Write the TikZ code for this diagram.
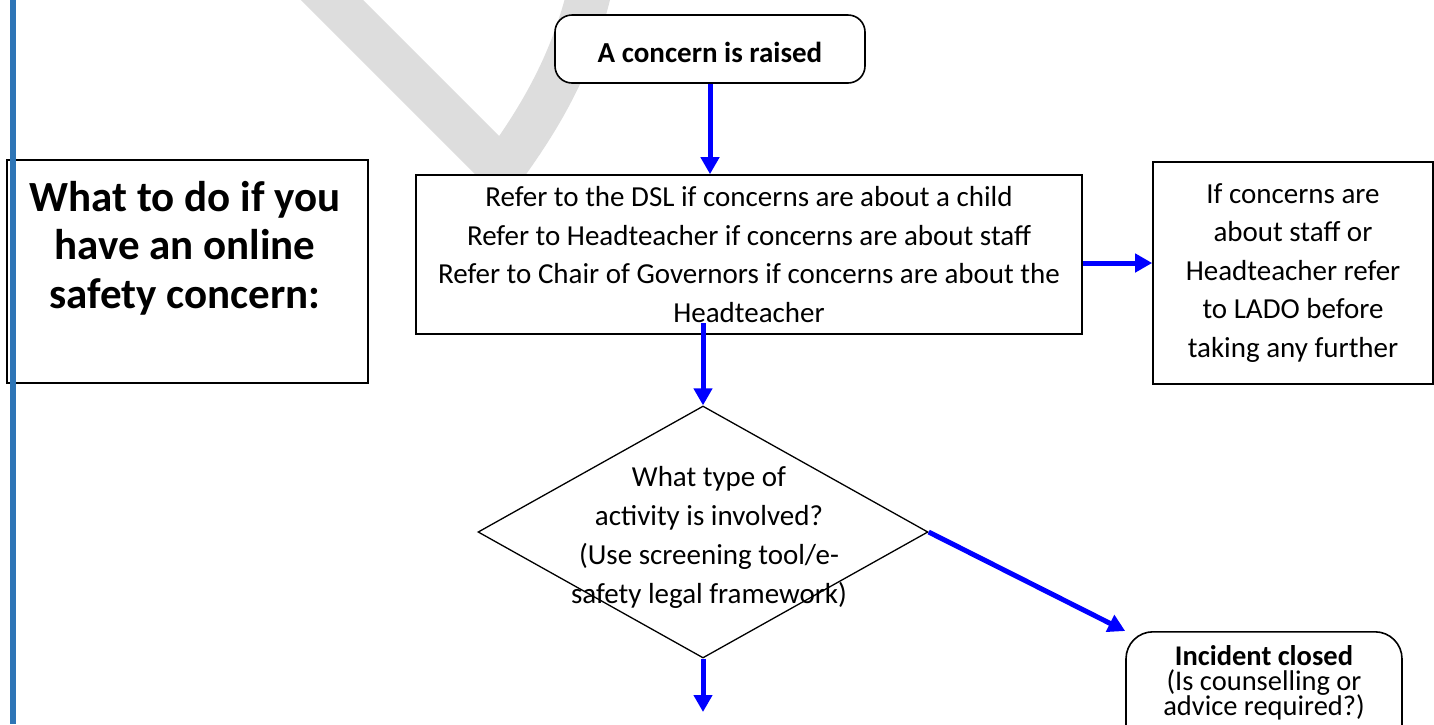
\documentclass[tikz,border=0pt]{standalone}
\usepackage{fontspec}
\setmainfont{Carlito}
\usetikzlibrary{arrows.meta,shapes.geometric,positioning}
\definecolor{barblue}{HTML}{2E75B6}
\definecolor{markgrey}{HTML}{DDDDDD}

\begin{document}
\begin{tikzpicture}[x=1pt,y=-1pt,
    plainbox/.style={draw,line width=1.6pt,fill=white,inner sep=0pt,align=center},
    roundbox/.style={plainbox,rounded corners=17pt},
    flow/.style={draw=blue,line width=5pt,-{Triangle[length=17pt,width=18pt]}},
    bodytext/.style={font=\fontsize{29}{38.5}\selectfont,align=center}]
  \useasboundingbox (0,0) rectangle (1434,724);
  \clip (0,0) rectangle (1434,724);
  \draw[markgrey,line width=44pt] (300,-32) -- (502,170) .. controls (540,118) and (575,60) .. (592,-20);
  \node[roundbox,minimum width=310pt,minimum height=68pt,text height=27pt,text depth=0pt,font=\fontsize{29}{35}\selectfont\bfseries] (raised) at (710,49) {A concern is raised};
  \node[plainbox,minimum width=666pt,minimum height=159pt,bodytext] (refer) at (749,254.5) {Refer to the DSL if concerns are about a child\\Refer to Headteacher if concerns are about staff\\Refer to Chair of Governors if concerns are about the\\Headteacher};
  \node[plainbox,minimum width=280pt,minimum height=222pt,bodytext] (lado) at (1293,273) {If concerns are\\about staff or\\Headteacher refer\\to LADO before\\taking any further};
  \node[plainbox,minimum width=361pt,minimum height=223pt] (whatbox) at (187.5,271.5) {};
  \node[font=\fontsize{43}{48.5}\selectfont\bfseries,align=center] (whattext) at (185,248) {What to do if you\\have an online\\safety concern:};
  \fill[barblue] (10,0) rectangle (16,724);
  \node[draw,diamond,line width=1.3pt,fill=white,minimum width=450pt,minimum height=252pt,inner sep=0pt] (question) at (703,532) {};
  \node[bodytext,font=\fontsize{29}{39}\selectfont] (qtext) at (709,537.5) {What type of\\activity is involved?\\(Use screening tool/e-\\safety legal framework)};
  \node[roundbox,rounded corners=27pt,minimum width=276pt,minimum height=150pt,anchor=north] (closed) at (1264,631) {};
  \node[font={\fontsize{28.5}{25}\selectfont\lineskiplimit=-100pt},align=center] (closedtext) at (1264,683) {\textbf{Incident closed}\\(Is counselling or\\advice required?)};
  \coordinate (referfoot) at (703,323);
  \coordinate (onward) at (703,712);
  \draw[flow] (raised.south) -- (raised.south |- refer.north);
  \draw[flow] (refer.east |- 0,263) -- (lado.west |- 0,263);
  \draw[flow] (referfoot) -- (question.north);
  \draw[flow] (question.east) -- (closed.north west);
  \draw[flow] (question.south) -- (onward);
\end{tikzpicture}
\end{document}
